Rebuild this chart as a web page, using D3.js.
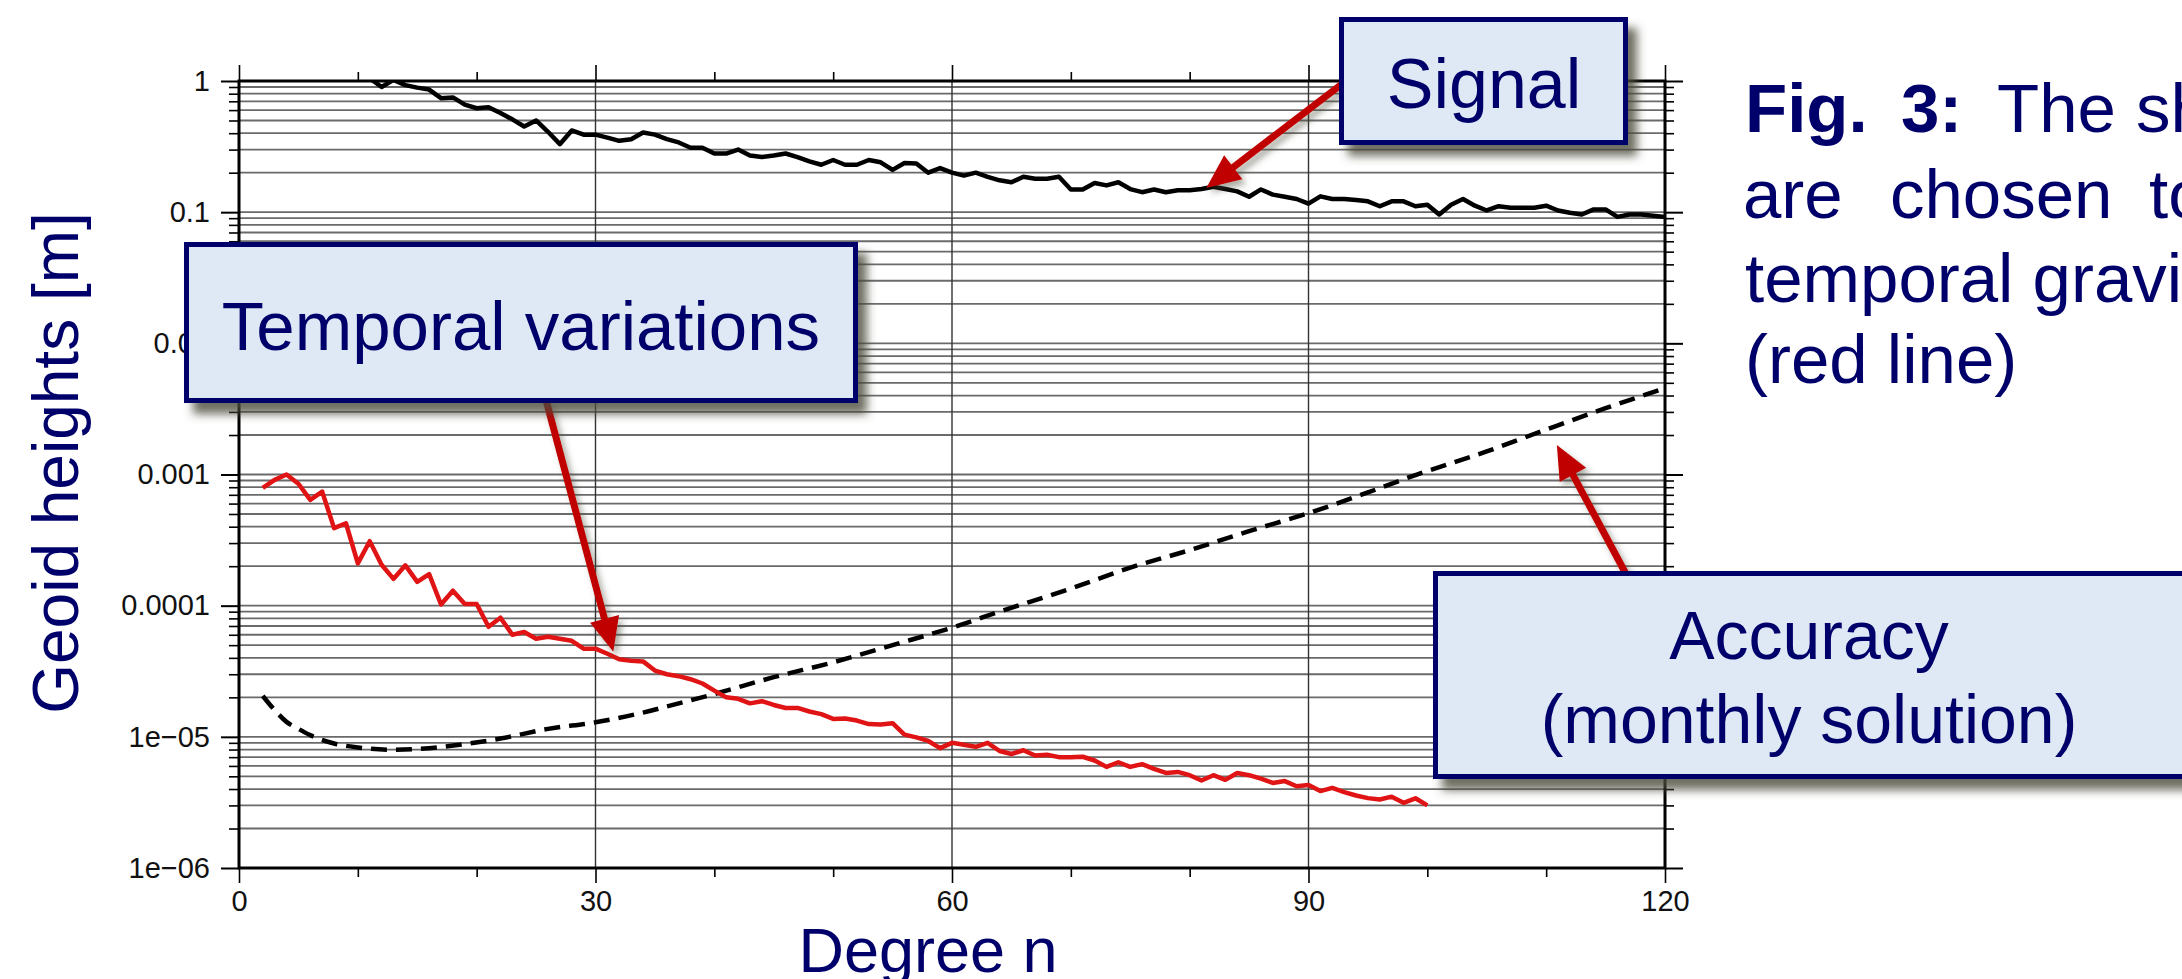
<!DOCTYPE html>
<html><head><meta charset="utf-8">
<script src="https://cdn.jsdelivr.net/npm/d3@7"></script>
<style>body{margin:0;background:#fff}svg{display:block}</style>
</head><body>
<svg id="c" width="2182" height="979"></svg>
<script>
// ---------------- data ----------------
const signalStart = 11;
const signalValues = [1.05,0.90,1.02,0.93,0.89,0.86,0.74,0.75,0.66,0.62,
  0.63,0.57,0.51,0.45,0.50,0.41,0.33,0.42,0.39,0.39,
  0.37,0.35,0.36,0.405,0.39,0.36,0.34,0.31,0.31,0.28,
  0.28,0.30,0.27,0.263,0.27,0.28,0.263,0.244,0.23,0.25,
  0.23,0.23,0.25,0.24,0.21,0.237,0.235,0.20,0.217,0.20,
  0.19,0.20,0.186,0.175,0.169,0.186,0.18,0.18,0.186,0.149,
  0.149,0.167,0.16,0.169,0.15,0.142,0.149,0.142,0.147,0.147,
  0.150,0.156,0.150,0.144,0.131,0.149,0.136,0.131,0.126,0.116,
  0.132,0.126,0.126,0.124,0.121,0.111,0.121,0.121,0.111,0.114,
  0.096,0.114,0.126,0.112,0.103,0.111,0.108,0.108,0.108,0.112,
  0.103,0.099,0.096,0.105,0.105,0.092,0.096,0.096,0.094,0.092];

const temporalStart = 2;
const temporalValues = [7.9e-4,9.1e-4,1.0e-3,8.5e-4,6.4e-4,7.4e-4,3.9e-4,4.25e-4,2.1e-4,
  3.1e-4,2.05e-4,1.6e-4,2.03e-4,1.52e-4,1.74e-4,1.02e-4,1.30e-4,1.03e-4,1.03e-4,
  6.9e-5,8.1e-5,6.0e-5,6.3e-5,5.6e-5,5.8e-5,5.6e-5,5.4e-5,4.7e-5,4.7e-5,
  4.3e-5,3.9e-5,3.8e-5,3.76e-5,3.2e-5,3.0e-5,2.9e-5,2.75e-5,2.55e-5,2.25e-5,
  2.0e-5,1.95e-5,1.8e-5,1.87e-5,1.75e-5,1.66e-5,1.66e-5,1.56e-5,1.49e-5,1.37e-5,
  1.38e-5,1.33e-5,1.25e-5,1.24e-5,1.27e-5,1.04e-5,9.9e-6,9.3e-6,8.2e-6,9.0e-6,
  8.7e-6,8.4e-6,9.0e-6,7.8e-6,7.4e-6,7.9e-6,7.2e-6,7.3e-6,7.0e-6,7.0e-6,
  7.05e-6,6.6e-6,5.9e-6,6.4e-6,5.9e-6,6.2e-6,5.7e-6,5.3e-6,5.4e-6,5.1e-6,
  4.65e-6,5.1e-6,4.7e-6,5.3e-6,5.1e-6,4.8e-6,4.45e-6,4.6e-6,4.2e-6,4.3e-6,
  3.86e-6,4.08e-6,3.79e-6,3.57e-6,3.41e-6,3.33e-6,3.5e-6,3.14e-6,3.4e-6,3.0e-6];

const accuracyDegrees = [2,3,4,5,6,8,10,13,16,19,22,26,30,34,37,40,45,50,55,60,64,70,75,80,85,90,95,99,105,110,115,120];
const accuracyValues = [2.05e-5,1.6e-5,1.3e-5,1.15e-5,1.03e-5,8.9e-6,8.3e-6,7.96e-6,8.2e-6,8.8e-6,
  9.7e-6,1.15e-5,1.29e-5,1.53e-5,1.8e-5,2.12e-5,2.85e-5,3.7e-5,5.0e-5,6.8e-5,
  9.0e-5,1.35e-4,1.95e-4,2.65e-4,3.7e-4,5.07e-4,7.3e-4,9.9e-4,1.5e-3,2.2e-3,3.2e-3,4.55e-3];

const xMajorTicks = [0,30,60,90,120];
const xMinorTicks = [10,20,40,50,70,80,100,110];
const yMajorTicks = [1,0.1,0.01,0.001,0.0001,1e-5,1e-6];
const yTickLabels = ["1","0.1","0.01","0.001","0.0001","1e\u221205","1e\u221206"];

// annotation targets (data coordinates)
const signalArrowTip = [81.4, 0.153];
const temporalArrowTip = [31.5, 4.45e-5];
const accuracyArrowTip = [110.9, 1.68e-3];

// ---------------- layout ----------------
const FONT = "'Liberation Sans', Arial, Helvetica, sans-serif";
const NAVY = "#00006b";
const M = {left:239, right:1665, top:81, bottom:868};
const x = d3.scaleLinear().domain([0,120]).range([M.left, M.right]);
const y = d3.scaleLog().domain([1e-6,1]).range([M.bottom, M.top]);
const svg = d3.select('#c');
const defs = svg.append('defs');
defs.append('clipPath').attr('id','plotclip').append('rect')
  .attr('x',M.left).attr('y',M.top).attr('width',M.right-M.left).attr('height',M.bottom-M.top);
const f = defs.append('filter').attr('id','shadow').attr('x','-20%').attr('y','-20%').attr('width','150%').attr('height','160%');
f.append('feDropShadow').attr('dx',9).attr('dy',11).attr('stdDeviation',5)
  .attr('flood-color','#4b4b3a').attr('flood-opacity',0.8);
const fa = defs.append('filter').attr('id','ashadow').attr('x','-20%').attr('y','-20%').attr('width','150%').attr('height','150%');
fa.append('feDropShadow').attr('dx',4).attr('dy',5).attr('stdDeviation',3)
  .attr('flood-color','#4b4b3a').attr('flood-opacity',0.45);

// horizontal gridlines (every 1..9 per decade)
const gridY = y.ticks();
svg.append('g').selectAll('line').data(gridY).join('line')
  .attr('x1',M.left).attr('x2',M.right)
  .attr('y1',d=>y(d)).attr('y2',d=>y(d))
  .attr('stroke','#6a6a6a').attr('stroke-width',1.8);
// vertical gridlines
svg.append('g').selectAll('line').data([30,60,90]).join('line')
  .attr('x1',d=>x(d)).attr('x2',d=>x(d)).attr('y1',M.top).attr('y2',M.bottom)
  .attr('stroke','#333').attr('stroke-width',1.4);

function styleAxis(g, w){
  g.select('.domain').remove();
  g.selectAll('.tick line').attr('stroke','#000').attr('stroke-width',w);
  g.selectAll('.tick text').attr('font-family',FONT).attr('font-size',29).attr('fill','#111');
}
// left
svg.append('g').attr('transform',`translate(${M.left},0)`)
  .call(d3.axisLeft(y).tickValues(yMajorTicks).tickFormat((d,i)=>yTickLabels[i]).tickSize(18).tickPadding(11))
  .call(g=>styleAxis(g,2));
svg.append('g').attr('transform',`translate(${M.left},0)`)
  .call(d3.axisLeft(y).tickValues(gridY.filter(d=>!yMajorTicks.includes(d))).tickFormat('').tickSize(10))
  .call(g=>styleAxis(g,1.6));
// right
svg.append('g').attr('transform',`translate(${M.right},0)`)
  .call(d3.axisRight(y).tickValues(yMajorTicks).tickFormat('').tickSize(18))
  .call(g=>styleAxis(g,2));
svg.append('g').attr('transform',`translate(${M.right},0)`)
  .call(d3.axisRight(y).tickValues(gridY.filter(d=>!yMajorTicks.includes(d))).tickFormat('').tickSize(9))
  .call(g=>styleAxis(g,1.6));
// top
svg.append('g').attr('transform',`translate(0,${M.top})`)
  .call(d3.axisTop(x).tickValues(xMajorTicks).tickFormat('').tickSize(16))
  .call(g=>styleAxis(g,1.6));
svg.append('g').attr('transform',`translate(0,${M.top})`)
  .call(d3.axisTop(x).tickValues(xMinorTicks).tickFormat('').tickSize(9))
  .call(g=>styleAxis(g,1.6));
// bottom
svg.append('g').attr('transform',`translate(0,${M.bottom})`)
  .call(d3.axisBottom(x).tickValues(xMajorTicks).tickSize(15).tickPadding(7))
  .call(g=>styleAxis(g,1.6));
svg.append('g').attr('transform',`translate(0,${M.bottom})`)
  .call(d3.axisBottom(x).tickValues(xMinorTicks).tickFormat('').tickSize(9))
  .call(g=>styleAxis(g,1.6));

// frame
svg.append('rect').attr('x',M.left).attr('y',M.top).attr('width',M.right-M.left).attr('height',M.bottom-M.top)
  .attr('fill','none').attr('stroke','#000').attr('stroke-width',3);

// series
const plot = svg.append('g').attr('clip-path','url(#plotclip)');
const signal = signalValues.map((v,i)=>[signalStart+i, v]);
const temporal = temporalValues.map((v,i)=>[temporalStart+i, v]);
const accuracy = accuracyDegrees.map((n,i)=>[n, accuracyValues[i]]);
const lin = d3.line().x(d=>x(d[0])).y(d=>y(d[1]));
plot.append('path').attr('d', d3.line().x(d=>x(d[0])).y(d=>y(d[1])).curve(d3.curveMonotoneX)(accuracy))
  .attr('fill','none').attr('stroke','#000').attr('stroke-width',4.5).attr('stroke-dasharray','16,9');
plot.append('path').attr('d', lin(temporal))
  .attr('fill','none').attr('stroke','#e01414').attr('stroke-width',4.5).attr('stroke-linejoin','round');
plot.append('path').attr('d', lin(signal))
  .attr('fill','none').attr('stroke','#000').attr('stroke-width',4.5).attr('stroke-linejoin','round');

// axis titles
svg.append('text').attr('x',928).attr('y',972).attr('text-anchor','middle')
  .attr('font-family',FONT).attr('font-size',63).attr('fill',NAVY).text('Degree n');
svg.append('text').attr('transform','translate(78,463) rotate(-90)').attr('text-anchor','middle')
  .attr('font-family',FONT).attr('font-size',64).attr('fill',NAVY).text('Geoid heights [m]');

// arrows
function arrow(x0,y0,x1,y1){
  const g = svg.append('g').attr('filter','url(#ashadow)');
  const dx=x1-x0, dy=y1-y0, L=Math.hypot(dx,dy), ux=dx/L, uy=dy/L;
  const hl=34, hw=15;
  const bx=x1-ux*hl, by=y1-uy*hl;
  g.append('line').attr('x1',x0).attr('y1',y0).attr('x2',bx+ux*2).attr('y2',by+uy*2)
    .attr('stroke','#c00000').attr('stroke-width',7);
  g.append('polygon').attr('points',[[x1,y1],[bx-uy*hw,by+ux*hw],[bx+uy*hw,by-ux*hw]].map(p=>p.join(',')).join(' '))
    .attr('fill','#c00000');
}
arrow(1342,84, x(signalArrowTip[0]), y(signalArrowTip[1]));
arrow(546,400, x(temporalArrowTip[0]), y(temporalArrowTip[1]));
arrow(1626,574, x(accuracyArrowTip[0]), y(accuracyArrowTip[1]));

// boxes
function box(x0,y0,w,h){
  svg.append('rect').attr('x',x0).attr('y',y0).attr('width',w).attr('height',h)
    .attr('fill','#dfe9f5').attr('stroke',NAVY).attr('stroke-width',5).attr('filter','url(#shadow)');
}
function label(t,xx,yy,size){
  svg.append('text').attr('x',xx).attr('y',yy).attr('text-anchor','middle')
    .attr('font-family',FONT).attr('font-size',size||68).attr('fill',NAVY).text(t);
}
box(186.5,244.5,669,156);
label('Temporal variations',521,350,69);
box(1341.5,19.5,284,123);
label('Signal',1484,108,70);
box(1435.5,573.5,800,203);
label('Accuracy',1809,659);
label('(monthly solution)',1809,743);

// caption (clipped at page edge)
const cap = svg.append('g').attr('font-family',FONT).attr('font-size',69).attr('fill',NAVY);
cap.append('text').attr('x',1745).attr('y',132).attr('font-weight','bold').text('Fig.');
cap.append('text').attr('x',1901).attr('y',132).attr('font-weight','bold').text('3:');
cap.append('text').attr('x',1997).attr('y',132).text('The');
cap.append('text').attr('x',2136).attr('y',132).text('shown');
cap.append('text').attr('x',1743).attr('y',218).text('are');
cap.append('text').attr('x',1890).attr('y',218).text('chosen');
cap.append('text').attr('x',2149).attr('y',218).text('to');
cap.append('text').attr('x',1745).attr('y',302).text('temporal gravity');
cap.append('text').attr('x',1745).attr('y',383).text('(red line)');
</script>
</body></html>
